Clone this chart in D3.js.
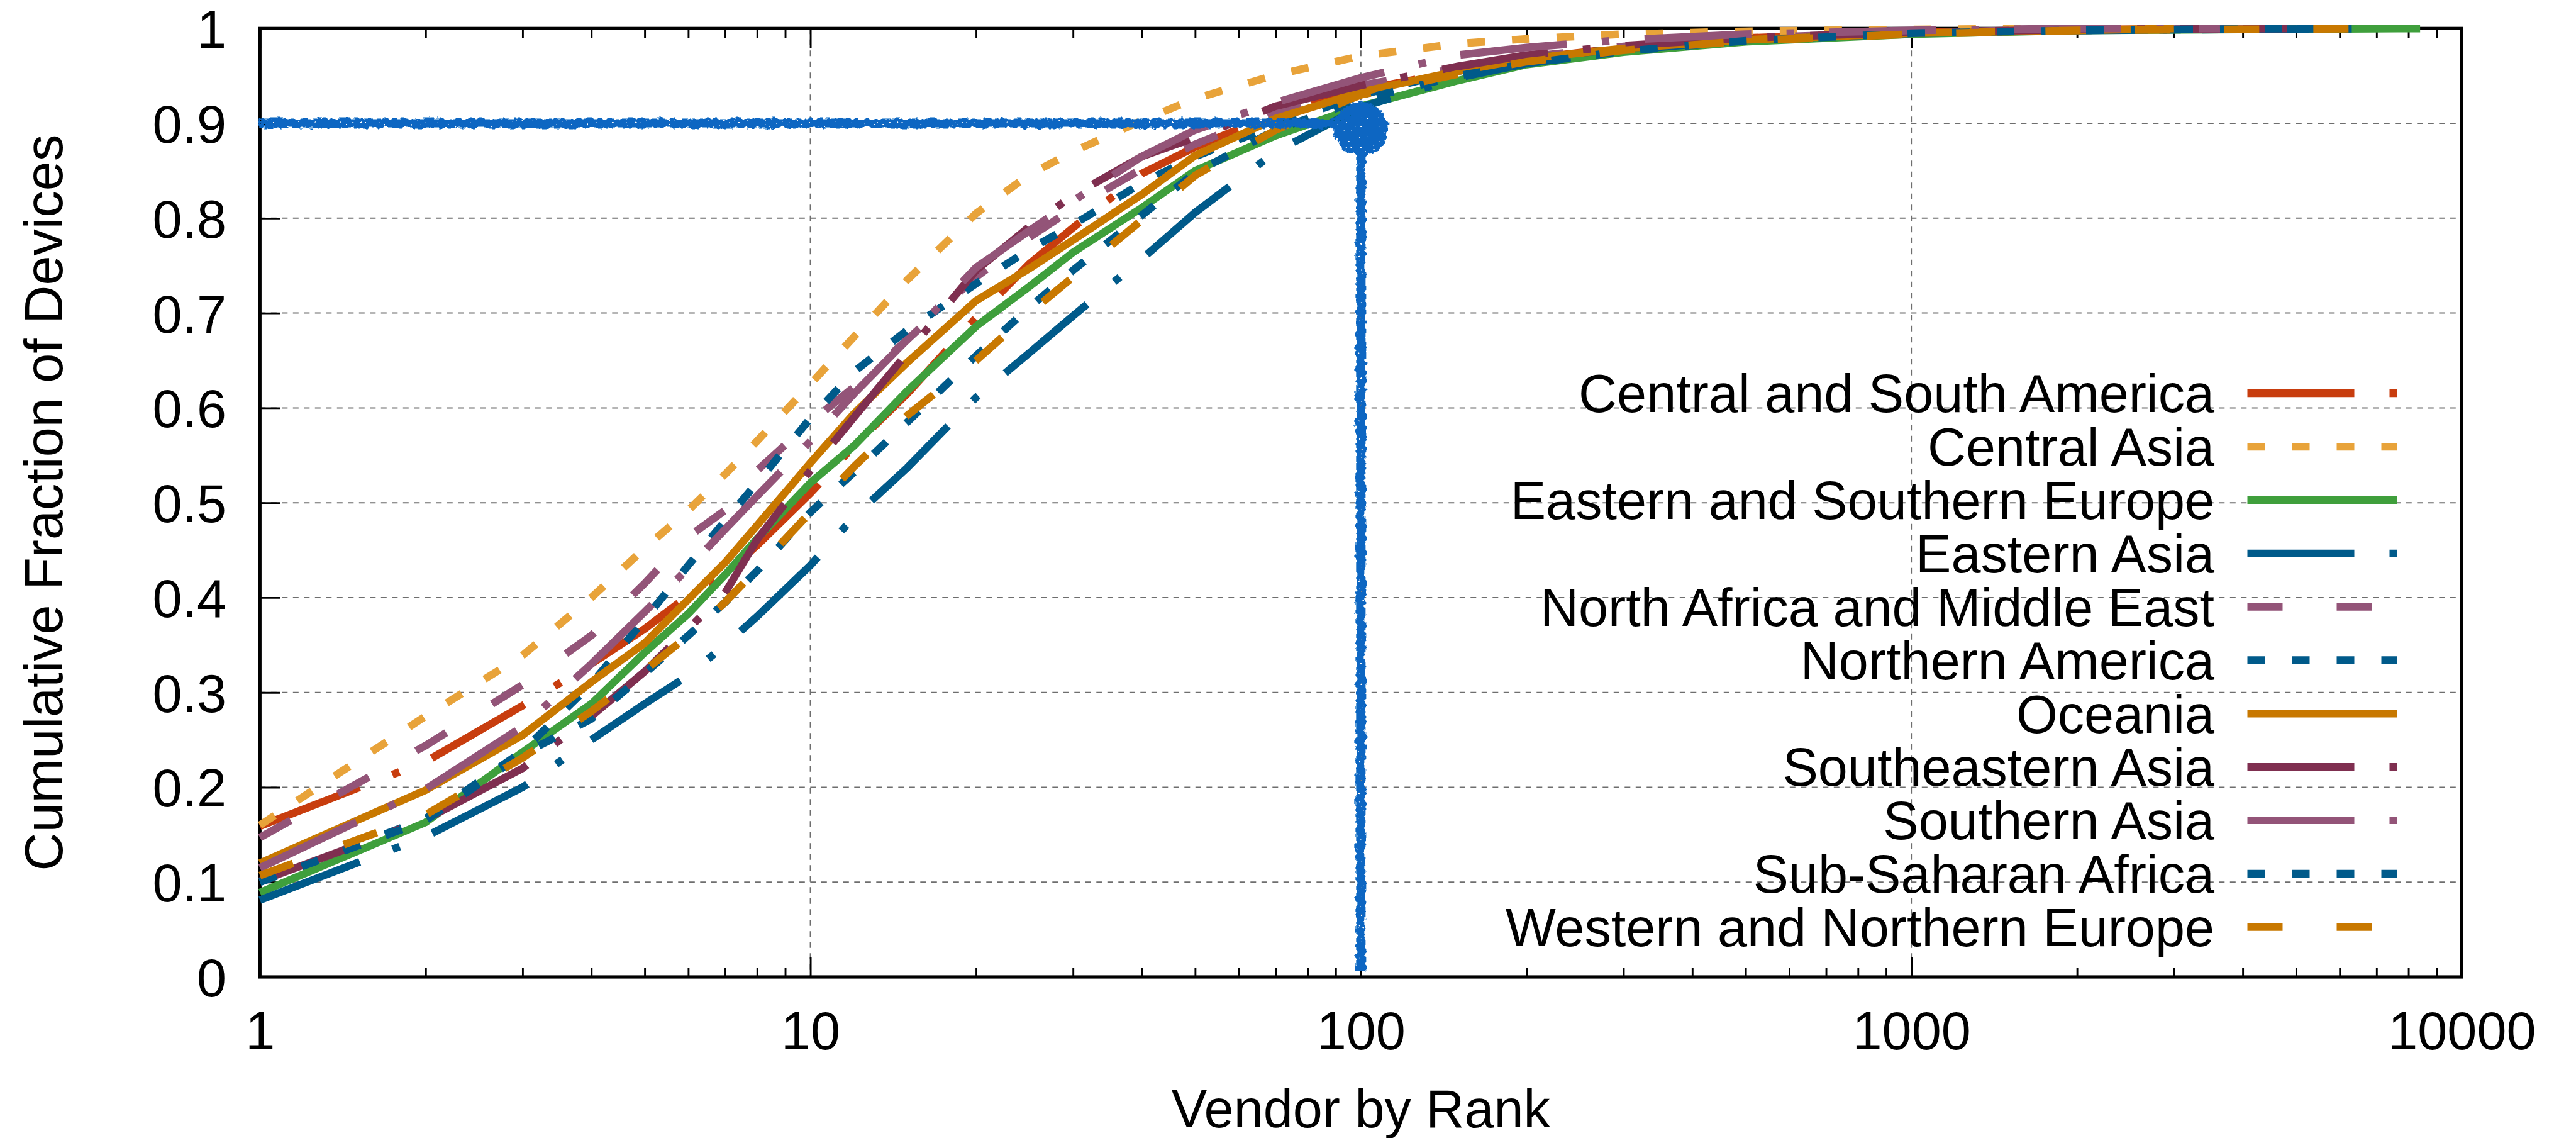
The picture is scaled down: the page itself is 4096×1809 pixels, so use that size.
<!DOCTYPE html>
<html><head><meta charset="utf-8">
<script src="https://cdn.jsdelivr.net/npm/d3@7"></script>
<style>html,body{margin:0;padding:0;background:#fff;} svg{display:block;}</style>
</head><body>
<svg id="chart" width="4096" height="1809"></svg>
<script>
// ---------------- DATA ----------------
const ranks = [1,2,3,4,5,6,7,8,10,12,15,20,25,30,40,50,70,100,150,200,300,500,1000,2000];
const seriesNames = [
  "Central and South America","Central Asia","Eastern and Southern Europe","Eastern Asia",
  "North Africa and Middle East","Northern America","Oceania","Southeastern Asia",
  "Southern Asia","Sub-Saharan Africa","Western and Northern Europe"
];
const centralSouthAmerica = [0.159,0.227,0.286,0.330,0.367,0.402,0.425,0.455,0.510,0.560,0.615,0.695,0.752,0.790,0.847,0.875,0.910,0.935,0.955,0.968,0.980,0.990,0.996,0.999];
const centralAsia         = [0.160,0.275,0.339,0.400,0.452,0.492,0.530,0.565,0.625,0.675,0.735,0.805,0.846,0.870,0.903,0.926,0.951,0.971,0.984,0.989,0.994,0.997,0.999,1.000];
const easternSouthernEurope = [0.089,0.163,0.237,0.288,0.342,0.383,0.424,0.462,0.521,0.560,0.618,0.686,0.728,0.764,0.811,0.850,0.887,0.918,0.945,0.962,0.975,0.986,0.994,0.998];
const easternAsia         = [0.081,0.148,0.200,0.250,0.288,0.318,0.350,0.380,0.434,0.485,0.537,0.611,0.658,0.697,0.757,0.806,0.870,0.917,0.948,0.963,0.977,0.988,0.995,0.998];
const northAfricaMiddleEast = [0.147,0.244,0.308,0.360,0.415,0.464,0.492,0.534,0.585,0.622,0.672,0.738,0.780,0.810,0.852,0.878,0.912,0.940,0.958,0.970,0.981,0.990,0.996,0.999];
const northernAmerica     = [0.100,0.167,0.238,0.309,0.377,0.434,0.481,0.521,0.589,0.638,0.682,0.731,0.767,0.793,0.837,0.865,0.898,0.930,0.955,0.968,0.979,0.988,0.995,0.998];
const oceania             = [0.120,0.197,0.255,0.311,0.352,0.398,0.437,0.476,0.542,0.594,0.648,0.713,0.747,0.777,0.825,0.866,0.905,0.933,0.955,0.968,0.979,0.988,0.995,0.998];
const southeasternAsia    = [0.101,0.166,0.220,0.275,0.322,0.367,0.405,0.461,0.534,0.590,0.658,0.745,0.791,0.824,0.865,0.885,0.918,0.940,0.960,0.972,0.982,0.990,0.996,0.999];
const southernAsia        = [0.115,0.198,0.264,0.330,0.385,0.431,0.472,0.507,0.565,0.615,0.672,0.748,0.787,0.818,0.865,0.893,0.922,0.948,0.972,0.980,0.988,0.994,0.998,1.000];
const subSaharanAfrica    = [0.100,0.165,0.235,0.272,0.320,0.360,0.395,0.428,0.490,0.532,0.585,0.655,0.706,0.745,0.803,0.848,0.893,0.925,0.950,0.963,0.976,0.987,0.995,0.998];
const westernNorthernEurope = [0.107,0.171,0.231,0.280,0.323,0.360,0.395,0.430,0.490,0.538,0.592,0.650,0.700,0.738,0.798,0.845,0.893,0.930,0.952,0.965,0.977,0.987,0.994,0.998];
const lastRanks = [5000,2500,8400,7000,4000,6000,3000,5000,4000,5000,7000];
const lastValue = 1.0;

const xTickValues = [1,10,100,1000,10000];
const xTickLabels = ["1","10","100","1000","10000"];
const yTickValues = [0,0.1,0.2,0.3,0.4,0.5,0.6,0.7,0.8,0.9,1];
const yTickLabels = ["0","0.1","0.2","0.3","0.4","0.5","0.6","0.7","0.8","0.9","1"];
const xTitle = "Vendor by Rank";
const yTitle = "Cumulative Fraction of Devices";
const markerRank = 100;
const markerFraction = 0.9;

// ---------------- STYLE ----------------
const seriesValues = [centralSouthAmerica, centralAsia, easternSouthernEurope, easternAsia,
  northAfricaMiddleEast, northernAmerica, oceania, southeasternAsia, southernAsia,
  subSaharanAfrica, westernNorthernEurope];
const colors = ["#c83d0e","#e8a33a","#3f9f3c","#005a8a","#935478","#005a8a","#c87800","#7f2f50","#935478","#005a8a","#c87800"];
const DASHDOT = "170,56,12,56", DOTTED = "28,43", DASHED = "56,86";
const dashes = [DASHDOT, DOTTED, null, DASHDOT, DASHED, DOTTED, null, DASHDOT, DASHDOT, DOTTED, DASHED];

const W = 4096, H = 1809;
const FONT = "'Liberation Sans', Arial, Helvetica, sans-serif";
const FS = 84.6;
const LW = 12.2;
const pL = 413.3, pR = 3914.4, pT = 45.3, pB = 1553.0;

const svg = d3.select("#chart");
svg.append("rect").attr("width", W).attr("height", H).attr("fill", "#fff");

const x = d3.scaleLog().domain([1, 10000]).range([pL, pR]);
const y = d3.scaleLinear().domain([0, 1]).range([pB, pT]);

// filter for the hand-drawn marker
const defs = svg.append("defs");
const flt = defs.append("filter").attr("id", "rough").attr("filterUnits", "userSpaceOnUse")
  .attr("x", 0).attr("y", 0).attr("width", W).attr("height", H);
flt.append("feTurbulence").attr("type", "fractalNoise").attr("baseFrequency", 0.12).attr("numOctaves", 2).attr("seed", 4).attr("result", "n1");
flt.append("feDisplacementMap").attr("in", "SourceGraphic").attr("in2", "n1").attr("scale", 10)
  .attr("xChannelSelector", "R").attr("yChannelSelector", "G").attr("result", "d");
flt.append("feTurbulence").attr("type", "fractalNoise").attr("baseFrequency", 0.3).attr("numOctaves", 1).attr("seed", 9).attr("result", "n2");
flt.append("feColorMatrix").attr("in", "n2").attr("type", "matrix")
  .attr("values", "0 0 0 0 0  0 0 0 0 0  0 0 0 0 0  0 0 0 -20 15.2").attr("result", "holes");
flt.append("feComposite").attr("in", "d").attr("in2", "holes").attr("operator", "in");

// grid
const grid = svg.append("g");
yTickValues.filter(v => v > 0 && v < 1).forEach(v => {
  grid.append("line").attr("x1", pL).attr("x2", pR).attr("y1", y(v)).attr("y2", y(v))
    .attr("stroke", "#6e6e6e").attr("stroke-width", 2).attr("stroke-dasharray", "9,8.5");
});
xTickValues.filter(v => v > 1 && v < 10000).forEach(v => {
  grid.append("line").attr("y1", pT).attr("y2", pB).attr("x1", x(v)).attr("x2", x(v))
    .attr("stroke", "#6e6e6e").attr("stroke-width", 2).attr("stroke-dasharray", "9,8.5");
});

// axes
const minorX = [];
for (let d = 1; d < 10000; d *= 10) for (let m = 2; m <= 9; m++) minorX.push(d * m);

const tickStyle = g => {
  g.select(".domain").remove();
  g.selectAll(".tick line").attr("stroke", "#000").attr("stroke-width", 2.9);
  g.selectAll("text").attr("font-family", FONT).attr("font-size", FS).attr("fill", "#000");
};

svg.append("g").attr("transform", `translate(0,${pB})`)
  .call(d3.axisBottom(x).tickValues(minorX).tickFormat("").tickSizeInner(-15).tickSizeOuter(0)).call(tickStyle);
svg.append("g").attr("transform", `translate(0,${pT})`)
  .call(d3.axisTop(x).tickValues(minorX).tickFormat("").tickSizeInner(-15).tickSizeOuter(0)).call(tickStyle);
svg.append("g").attr("transform", `translate(0,${pT})`)
  .call(d3.axisTop(x).tickValues(xTickValues).tickFormat("").tickSizeInner(-31).tickSizeOuter(0)).call(tickStyle);
const xAxis = svg.append("g").attr("transform", `translate(0,${pB})`)
  .call(d3.axisBottom(x).tickValues(xTickValues).tickFormat((d, i) => xTickLabels[i]).tickSizeInner(-31).tickSizeOuter(0))
  .call(tickStyle);
xAxis.selectAll("text").attr("y", 1668 - pB).attr("dy", 0);

const yAxis = svg.append("g").attr("transform", `translate(${pL},0)`)
  .call(d3.axisLeft(y).tickValues(yTickValues).tickFormat((d, i) => yTickLabels[i]).tickSizeInner(-32).tickSizeOuter(0).tickPadding(pL - 360))
  .call(tickStyle);
yAxis.selectAll("text").attr("dy", "0.36em");

// border
svg.append("rect").attr("x", pL).attr("y", pT).attr("width", pR - pL).attr("height", pB - pT)
  .attr("fill", "none").attr("stroke", "#000").attr("stroke-width", 5.2);

// titles
svg.append("text").attr("x", (pL + pR) / 2).attr("y", 1792).attr("text-anchor", "middle")
  .attr("font-family", FONT).attr("font-size", FS).text(xTitle);
svg.append("text").attr("transform", `translate(99,${(pT + pB) / 2}) rotate(-90)`).attr("text-anchor", "middle")
  .attr("font-family", FONT).attr("font-size", FS).text(yTitle);

// series
const line = d3.line().x(d => x(d.r)).y(d => y(d.f));
const lines = svg.append("g");
seriesValues.forEach((vals, i) => {
  const pts = vals.map((v, k) => ({ r: ranks[k], f: v }));
  pts.push({ r: lastRanks[i], f: lastValue });
  lines.append("path").datum(pts).attr("d", line)
    .attr("fill", "none").attr("stroke", colors[i]).attr("stroke-width", LW)
    .attr("stroke-linecap", "butt").attr("stroke-linejoin", "miter")
    .attr("stroke-dasharray", dashes[i]);
});

// legend
const legend = svg.append("g");
const rowY0 = 625.2, rowDY = 84.85, textRight = 3521, sx1 = 3573.5, sx2 = 3811.5;
seriesNames.forEach((name, i) => {
  const cy = rowY0 + i * rowDY;
  legend.append("text").attr("x", textRight).attr("y", cy + 0.358 * FS).attr("text-anchor", "end")
    .attr("font-family", FONT).attr("font-size", FS).text(name);
  legend.append("line").attr("x1", sx1).attr("x2", sx2).attr("y1", cy).attr("y2", cy)
    .attr("stroke", colors[i]).attr("stroke-width", LW).attr("stroke-dasharray", dashes[i]);
});

// hand-drawn marker at (100, 0.9)
const mark = svg.append("g").attr("filter", "url(#rough)");
const blue = "#0a66c2";
mark.append("line").attr("x1", x(1)).attr("x2", x(markerRank)).attr("y1", y(markerFraction)).attr("y2", y(markerFraction))
  .attr("stroke", blue).attr("stroke-width", 15);
mark.append("line").attr("x1", x(markerRank)).attr("x2", x(markerRank)).attr("y1", y(markerFraction)).attr("y2", y(0.006))
  .attr("stroke", blue).attr("stroke-width", 15);
mark.append("circle").attr("cx", x(markerRank)).attr("cy", y(markerFraction) + 9).attr("r", 43).attr("fill", blue);
</script>
</body></html>
